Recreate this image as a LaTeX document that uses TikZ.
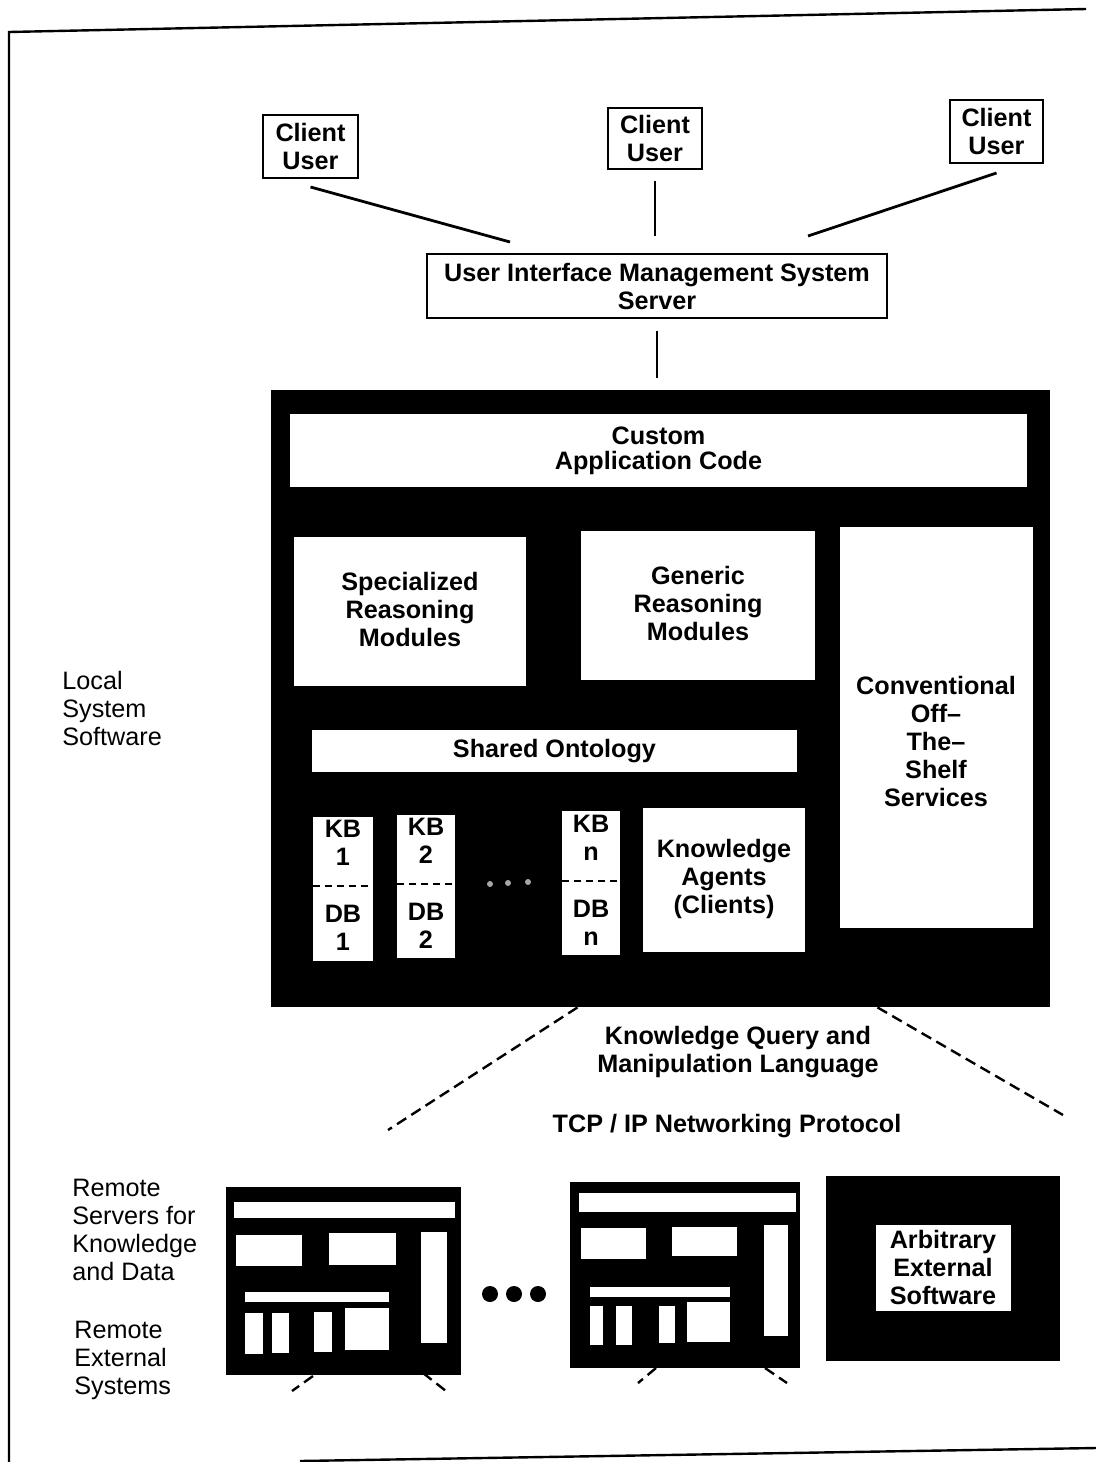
\documentclass[tikz,border=0pt]{standalone}
\usepackage{fontspec}
\setmainfont{Liberation Sans}
\usetikzlibrary{fit}
\begin{document}
\begin{tikzpicture}[x=0.5pt,y=-0.5pt,
  lbl/.style={font=\bfseries\fontsize{12.6}{14}\selectfont, align=center},
  side/.style={font=\fontsize{12.6}{14}\selectfont, align=left, anchor=west, inner sep=0pt},
  wbox/.style={draw, line width=1pt, fill=white, inner sep=0pt},
  blk/.style={fill=black, inner sep=0pt},
  wht/.style={fill=white, inner sep=0pt},
  txt/.style={inner sep=0pt, lbl},
  conn/.style={line width=1.4pt},
  dconn/.style={line width=1.2pt, dash pattern=on 5.5pt off 3pt},
  sepline/.style={line width=1.4pt, dash pattern=on 3.5pt off 2.5pt},
  dot/.style={circle, fill=black, inner sep=0pt, minimum size=8pt},
  gdot/.style={circle, fill=gray!70, inner sep=0pt, minimum size=3pt},
]
\useasboundingbox (0,0) rectangle (1096,1462);
% frame
\draw[line width=1.2pt] (1086,9) -- (9,32) -- (9,1462);
\draw[line width=1.2pt] (300,1461) -- (1096,1448);

% clients
\node[wbox, fit={(263,115) (358,178)}] (c1) {};
\node[txt] (c1t) at (c1.center) {Client\\User};
\node[wbox, fit={(608,108) (702,169)}] (c2) {};
\node[txt] (c2t) at (c2.center) {Client\\User};
\node[wbox, fit={(950,100) (1043,163)}] (c3) {};
\node[txt] (c3t) at (c3.center) {Client\\User};
\node[wbox, fit={(427,254) (887,318)}] (uims) {};
\node[txt] (uimst) at (uims.center) {User Interface Management System\\Server};

\coordinate (u1) at (510,242);
\coordinate (u3) at (808,236);
\draw[conn] ([yshift=-4pt]c1.south) -- (u1);
\draw[conn] ([yshift=-5.5pt]c2.south) -- ([yshift=8.5pt]uims.north -| c2.south);
\draw[conn] ([yshift=-4.5pt]c3.south) -- (u3);

% main black box
\node[blk, fit={(271,390) (1050,1007)}] (main) {};
\draw[conn] ([yshift=-6pt]uims.south) -- ([yshift=6pt]main.north -| uims.south);

\node[wht, fit={(290,414) (1027,487)}] (app) {};
\node[txt, font=\bfseries\fontsize{12.6}{12.5}\selectfont] (appt) at (app.center) {Custom\\Application Code};
\node[wht, fit={(294,537) (526,686)}] (spec) {};
\node[txt] (spect) at (410,609) {Specialized\\Reasoning\\Modules};
\node[wht, fit={(581,531) (815,680)}] (gen) {};
\node[txt] (gent) at (698,603) {Generic\\Reasoning\\Modules};
\node[wht, fit={(840,527) (1033,928)}] (conv) {};
\node[txt] (convt) at (936,741) {Conventional\\Off--\\The--\\Shelf\\Services};
\node[wht, fit={(312,730) (797,772)}] (onto) {};
\node[txt] (ontot) at (onto.center) {Shared Ontology};

% KB / DB columns
\node[wht, fit={(313,817) (373,961)}] (kb1) {};
\node[wht, fit={(397,815) (455,958)}] (kb2) {};
\node[wht, fit={(562,811) (620,955)}] (kbn) {};
\draw[sepline] (313,886) -- (373,886);
\draw[sepline] (397,884) -- (455,884);
\draw[sepline] (562,881) -- (620,881);
\node[txt] (kb1t) at (343,843) {KB\\1};
\node[txt] (db1t) at (343,928) {DB\\1};
\node[txt] (kb2t) at (426,841) {KB\\2};
\node[txt] (db2t) at (426,926) {DB\\2};
\node[txt] (kbnt) at (591,838) {KB\\n};
\node[txt] (dbnt) at (591,923) {DB\\n};
\node[gdot] (g1) at (490,884) {};
\node[gdot] (g2) at (508,883) {};
\node[gdot] (g3) at (528,882) {};
\node[wht, fit={(643,808) (805,952)}] (agents) {};
\node[txt] (agentst) at (724,879) {Knowledge\\Agents\\(Clients)};

% protocol lines and labels
\coordinate (d1e) at (388,1130);
\coordinate (d2e) at (1063,1115);
\draw[dconn] ([xshift=-41.5pt]main.south) -- (d1e);
\draw[dconn] ([xshift=108.5pt]main.south) -- (d2e);
\node[txt] (kqml) at (738,1052) {Knowledge Query and\\Manipulation Language};
\node[txt] (tcp) at (727,1126) {TCP / IP Networking Protocol};

% side labels
\node[side] (local) at (62,708) {Local\\System\\Software};
\node[side] (remote) at (72,1230) {Remote\\Servers for\\Knowledge\\and Data};
\node[side] (remext) at (74,1360) {Remote\\External\\Systems};

% remote server 1
\node[blk, fit={(226,1187) (461,1375)}] (s1) {};
\fill[white] (234,1202) rectangle (455,1218);
\fill[white] (236,1235) rectangle (302,1266);
\fill[white] (329,1233) rectangle (396,1265);
\fill[white] (421,1232) rectangle (447,1343);
\fill[white] (245,1292) rectangle (389,1302);
\fill[white] (245,1313) rectangle (263,1354);
\fill[white] (272,1313) rectangle (289,1353);
\fill[white] (314,1312) rectangle (332,1352);
\fill[white] (345,1308) rectangle (389,1350);
\draw[dconn] (313,1376) -- (292,1391);
\draw[dconn] (423,1373) -- (446,1391);

% dots
\node[dot] (e1) at (490,1294) {};
\node[dot] (e2) at (514,1294) {};
\node[dot] (e3) at (538,1294) {};

% remote server 2
\node[blk, fit={(570,1182) (800,1368)}] (s2) {};
\fill[white] (579,1193) rectangle (796,1212);
\fill[white] (581,1228) rectangle (646,1259);
\fill[white] (672,1227) rectangle (737,1256);
\fill[white] (764,1225) rectangle (788,1336);
\fill[white] (590,1287) rectangle (730,1297);
\fill[white] (590,1306) rectangle (603,1345);
\fill[white] (616,1306) rectangle (632,1345);
\fill[white] (659,1306) rectangle (675,1343);
\fill[white] (687,1302) rectangle (730,1342);
\draw[dconn] (656,1368) -- (638,1383);
\draw[dconn] (765,1368) -- (787,1383);

% arbitrary external software
\node[blk, fit={(826,1176) (1060,1361)}] (ext) {};
\node[wht, fit={(876,1225) (1011,1311)}] (extsw) {};
\node[txt] (extswt) at (943,1267) {Arbitrary\\External\\Software};
\end{tikzpicture}
\end{document}
